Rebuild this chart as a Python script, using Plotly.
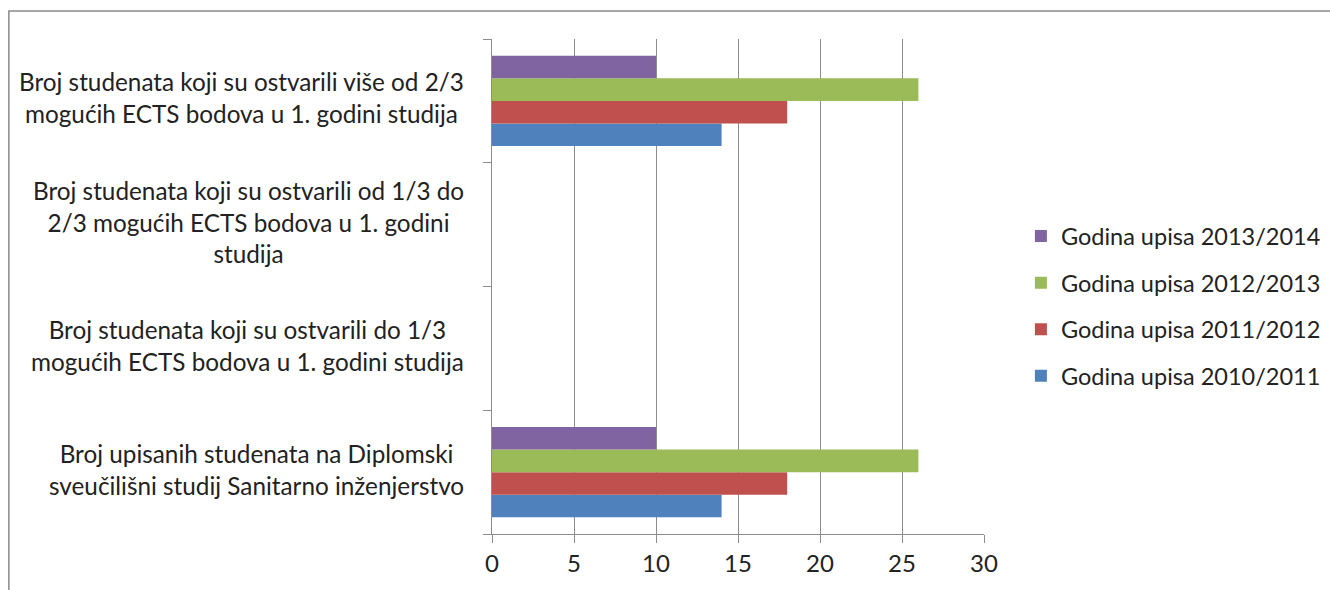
import plotly.graph_objects as go

categories = [
    "Broj upisanih studenata na Diplomski<br>sveučilišni studij Sanitarno inženjerstvo",
    "Broj studenata koji su ostvarili do 1/3<br>mogućih ECTS bodova u 1. godini studija",
    "Broj studenata koji su ostvarili od 1/3 do<br>2/3 mogućih ECTS bodova u 1. godini<br>studija",
    "Broj studenata koji su ostvarili više od 2/3<br>mogućih ECTS bodova u 1. godini studija",
]
series_names = ["Godina upisa 2010/2011", "Godina upisa 2011/2012",
                "Godina upisa 2012/2013", "Godina upisa 2013/2014"]
v_2010 = [14, None, None, 14]
v_2011 = [18, None, None, 18]
v_2012 = [26, None, None, 26]
v_2013 = [10, None, None, 10]
colors = ["#4F81BD", "#C0504D", "#9BBB59", "#8064A2"]
x_ticks = [0, 5, 10, 15, 20, 25, 30]

FONT = "Lato"
TXT = "#222222"
GRID = "#8c8c8c"

fig = go.Figure()
for i, (name, vals) in enumerate(zip(series_names, [v_2010, v_2011, v_2012, v_2013])):
    fig.add_trace(go.Bar(
        y=categories, x=vals, name=name, orientation="h",
        marker=dict(color=colors[i], line=dict(width=0)),
        legendgroup=name, legendrank=len(series_names) - i,
    ))

for cat in categories:
    fig.add_annotation(
        x=-0.053, xref="paper", y=cat, yref="y", text=cat,
        showarrow=False, xanchor="right", yanchor="middle", align="center",
        yshift=3,
        font=dict(family=FONT, size=24.3, color=TXT),
    )

# outer chart frame
fig.add_shape(type="rect", xref="paper", yref="paper",
              x0=-0.982, x1=1.8, y0=-0.3, y1=1.0566,
              line=dict(color="#8a8a8a", width=1.5), fillcolor="rgba(0,0,0,0)",
              layer="below")

fig.update_layout(
    width=1330, height=590,
    margin=dict(l=492, r=346, t=39, b=56, autoexpand=False),
    paper_bgcolor="white", plot_bgcolor="white",
    barmode="group", bargap=0.272, bargroupgap=0,
    font=dict(family=FONT, size=24, color=TXT),
    showlegend=True,
    legend=dict(
        traceorder="grouped", tracegroupgap=13,
        x=1.075, xanchor="left", y=0.46, yanchor="middle",
        font=dict(family=FONT, size=23.5, color=TXT),
        bgcolor="rgba(0,0,0,0)", itemwidth=30,
    ),
    xaxis=dict(
        range=[0, 30], tickvals=x_ticks, showgrid=True, gridcolor=GRID, gridwidth=1,
        showline=True, linecolor=GRID, linewidth=1, ticks="outside", ticklen=8,
        tickcolor=GRID, zeroline=False, tickfont=dict(family=FONT, size=24, color=TXT),
        fixedrange=True,
    ),
    yaxis=dict(
        type="category", categoryorder="array", categoryarray=categories,
        showticklabels=False, showline=True, linecolor=GRID, linewidth=1,
        ticks="outside", ticklen=8, tickcolor=GRID, tickson="boundaries",
        showgrid=False, zeroline=False, fixedrange=True,
    ),
)

fig.write_html("out.html", config={"displayModeBar": False},
               post_script="document.body.style.margin='0px';document.body.style.overflow='hidden';")
